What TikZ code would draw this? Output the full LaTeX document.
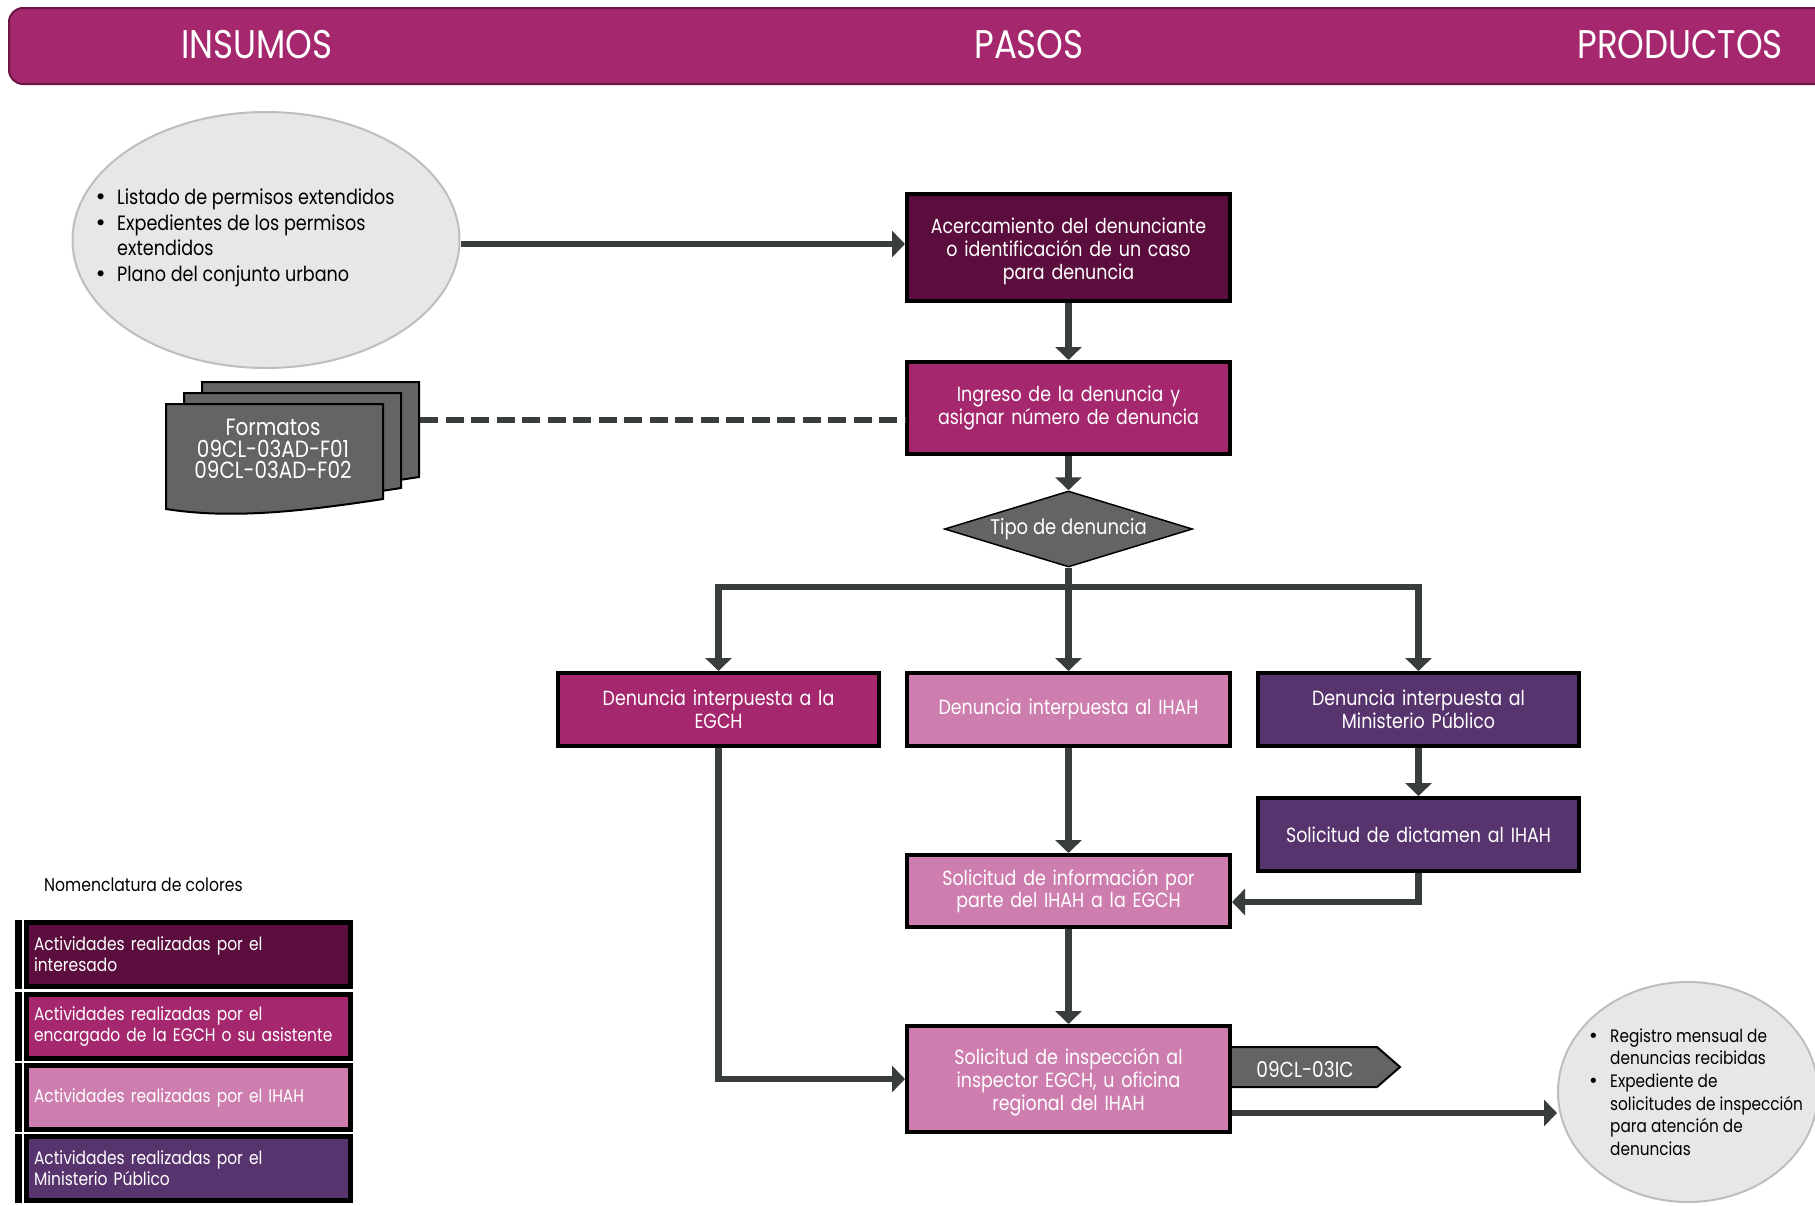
\documentclass[tikz,border=0pt]{standalone}
\usepackage{fontspec}
\setmainfont[FakeStretch=0.85]{Poppins}
\newfontfamily\dejavu{DejaVu Sans}
\usetikzlibrary{arrows.meta,shapes.geometric,calc}
\definecolor{hdr}{HTML}{A5286E}
\definecolor{hdrb}{HTML}{6B1646}
\definecolor{plum}{HTML}{5B0E3D}
\definecolor{mag}{HTML}{A5286E}
\definecolor{pinkc}{HTML}{CD7EAE}
\definecolor{purp}{HTML}{58346E}
\definecolor{dgray}{HTML}{636466}
\definecolor{arrc}{HTML}{3A3D3E}
\definecolor{ellf}{HTML}{E6E7E8}
\definecolor{elld}{HTML}{BCBEC0}
\newcommand\hdfont{\fontsize{40}{44}\selectfont}
\newcommand\bxfont{\fontsize{20.5}{22.8}\selectfont}
\newcommand\elfont{\fontsize{20.7}{25.5}\selectfont}
\newcommand\opfont{\fontsize{18}{22.7}\selectfont}
\newcommand\lgfont{\fontsize{18.2}{21}\selectfont}
\newcommand\bul{\makebox[22.5pt][l]{\dejavu •}}
\newcommand\bulsp{\makebox[22.5pt]{}}
\newcommand\bulo{\makebox[22pt][l]{\dejavu •}}
\newcommand\bulosp{\makebox[22pt]{}}
\begin{document}
\begin{tikzpicture}[x=1pt,y=-1pt,
  box/.style={draw=black, line width=4pt, minimum width=323pt, text width=312pt,
    align=center, text=white, inner sep=0pt, font=\bxfont},
  arr/.style={draw=arrc, line width=6.5pt, -{Triangle[width=26pt,length=13pt]}},
  dashline/.style={draw=arrc, line width=6.5pt, dash pattern=on 18pt off 7.5pt},
  leg/.style={draw=black, line width=5pt, minimum width=324pt, minimum height=64pt,
    text width=309pt, inner xsep=7.5pt, align=left, text=white, font=\lgfont},
  sheet/.style={fill=dgray, draw=black, line width=2pt},
  bubble/.style={ellipse, fill=ellf, draw=elld, line width=2pt, inner sep=0pt}]
\useasboundingbox (0,0) rectangle (1815,1205);
% header
\draw[fill=hdr, draw=hdrb, line width=2pt, rounded corners=14pt]
  (1840,8) -- (9,8) -- (9,84) -- (1840,84) -- cycle;
\node[anchor=base, text=white, font=\hdfont] (hIns) at (257,58) {INSUMOS};
\node[anchor=base, text=white, font=\hdfont] (hPas) at (1029,58) {PASOS};
\node[anchor=base, text=white, font=\hdfont] (hPro) at (1680,58) {PRODUCTOS};
% input bubble
\node[bubble, minimum width=387pt, minimum height=256pt] (in) at (266,240) {};
\node[anchor=west, align=left, inner sep=0pt, font=\elfont] (inTxt) at (94.5,238)
  {\bul Listado de permisos extendidos\\ \bul Expedientes de los permisos\\ \bulsp extendidos\\ \bul Plano del conjunto urbano};
% document stack
\draw[sheet] (202,382) -- (419,382) -- (419,477) .. controls (335,490) and (265,497) .. (202,487) -- cycle;
\draw[sheet] (184,393) -- (401,393) -- (401,488) .. controls (317,501) and (247,508) .. (184,498) -- cycle;
\draw[sheet] (166,404) -- (383,404) -- (383,499) .. controls (299,512) and (229,519) .. (166,509) -- cycle;
\node[align=center, text=white, font=\fontsize{23.5}{21.5}\selectfont, inner sep=0pt] (fmt) at (273,449)
  {Formatos\\09CL-03AD-F01\\09CL-03AD-F02};
\coordinate (docR) at (420,420);
% tag
\draw[fill=dgray, draw=black, line width=2pt] (1225,1047) -- (1377,1047) -- (1400,1067) -- (1377,1087) -- (1225,1087) -- cycle;
% boxes
\node[box, fill=plum, minimum height=107pt] (b1) at (1068.5,247)
  {\rule{0pt}{24pt}Acercamiento del denunciante\\o identificación de un caso\\para denuncia};
\node[box, fill=mag, minimum height=92pt] (b2) at (1068.5,408)
  {Ingreso de la denuncia y\\asignar número de denuncia};
\node[diamond, draw=black, line width=1.5pt, fill=dgray, minimum width=248pt, minimum height=76pt,
  shape aspect=3.26, inner sep=0pt, text=white, font=\fontsize{21.2}{23}\selectfont] (d) at (1068.5,529) {Tipo de denuncia};
\node[box, fill=mag, minimum width=321pt, minimum height=73pt] (L) at (718.5,709.5)
  {Denuncia interpuesta a la\\EGCH};
\node[box, fill=pinkc, minimum height=73pt] (M) at (1068.5,709.5)
  {Denuncia interpuesta al IHAH};
\node[box, fill=purp, minimum width=321pt, minimum height=73pt] (R) at (1418.5,709.5)
  {Denuncia interpuesta al\\Ministerio Público};
\node[box, fill=purp, minimum width=321pt, minimum height=73pt] (D) at (1418.5,834.5)
  {Solicitud de dictamen al IHAH};
\node[box, fill=pinkc, minimum height=72pt] (I) at (1068.5,891)
  {Solicitud de información por\\parte del IHAH a la EGCH};
\node[box, fill=pinkc, minimum height=106pt] (S) at (1068.5,1079)
  {\rule{0pt}{23pt}Solicitud de inspección al\\inspector EGCH, u oficina\\regional del IHAH};
\node[text=white, font=\fontsize{21.8}{23}\selectfont, inner sep=0pt] (tag) at (1305,1070) {09CL-03IC};
% output bubble
\node[bubble, minimum width=260pt, minimum height=220pt] (out) at (1688,1092) {};
\node[anchor=west, align=left, inner sep=0pt, font=\opfont] (outTxt) at (1588,1092)
  {\bulo Registro mensual de\\ \bulosp denuncias recibidas\\ \bulo Expediente de\\ \bulosp solicitudes de inspección\\ \bulosp para atención de\\ \bulosp denuncias};
% connectors
\draw[arr] ([yshift=-4pt]in.east) -- ([yshift=-4pt]in.east -| b1.west);
\draw[dashline] (docR) -- (docR -| b2.west);
\draw[arr] (b1.south) -- (b2.north);
\draw[arr] (b2.south) -- (d.north);
\draw[arr] (d.south) -- ++(0,19) -| (L.north);
\draw[arr] (d.south) -- ++(0,19) -| (R.north);
\draw[arr] (d.south) -- (M.north);
\draw[arr] (M.south) -- (I.north);
\draw[arr] (R.south) -- (D.north);
\draw[arr] (D.south) |- ([yshift=-11pt]I.east);
\draw[arr] (I.south) -- (S.north);
\draw[arr] (L.south) |- (S.west);
\draw[arr] ([yshift=-34pt]S.east) -- ([yshift=-34pt]S.east -| out.west);
% legend
\node[anchor=base west, font=\fontsize{18.4}{20}\selectfont, inner sep=0pt] (legT) at (44,891) {Nomenclatura de colores};
\fill[black] (15,920) rectangle (22,989);
\fill[black] (15,992) rectangle (22,1061);
\fill[black] (15,1063) rectangle (22,1132);
\fill[black] (15,1134) rectangle (22,1203);
\node[leg, fill=plum] (lg1) at (188.5,954.5) {Actividades realizadas por el\\interesado};
\node[leg, fill=mag] (lg2) at (188.5,1026.5) {Actividades realizadas por el\\encargado de la EGCH o su asistente};
\node[leg, fill=pinkc] (lg3) at (188.5,1097.5) {Actividades realizadas por el IHAH};
\node[leg, fill=purp] (lg4) at (188.5,1168.5) {Actividades realizadas por el\\Ministerio Público};
\end{tikzpicture}
\end{document}
